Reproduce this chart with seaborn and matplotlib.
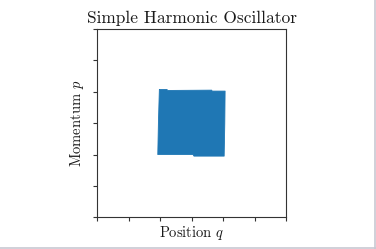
import matplotlib
matplotlib.use("Agg")
import matplotlib.pyplot as plt
from matplotlib.lines import Line2D
import seaborn as sns
import pandas as pd

# Outline of the filled region of phase-space points (q, p)
q_outline = [-1.03, -0.79, -0.76, 0.635, 0.645, 1.06, 1.05, 1.03, 0.07, 0.04, -1.08, -1.06, -1.03]
p_outline = [1.07, 1.07, 1.04, 1.05, 1.02, 1.02, 0.0, -1.05, -1.05, -1.00, -1.00, 0.0, 1.07]
tick_values = [-3, -2, -1, 0, 1, 2, 3]
title = "Simple Harmonic Oscillator"
xlabel = "Position $q$"
ylabel = "Momentum $p$"

sns.set_style("ticks")
plt.rcParams["font.family"] = ["cmr10"]
plt.rcParams["mathtext.fontset"] = "cm"
plt.rcParams["axes.unicode_minus"] = False
plt.rcParams["axes.formatter.use_mathtext"] = True

fig = plt.figure(figsize=(3.76, 2.49), dpi=100)
ax = fig.add_axes([0.259, 0.127, 0.502, 0.757])

df = pd.DataFrame({"q": q_outline, "p": p_outline})
color = "#1f77b4"
ax.fill(df["q"], df["p"], color=color, linewidth=0)
sns.lineplot(data=df, x="q", y="p", sort=False, estimator=None, color=color,
             linewidth=0.6, ax=ax)

ax.set_xlim(-3, 3)
ax.set_ylim(-3, 3)
ax.set_xticks(tick_values)
ax.set_yticks(tick_values)
ax.set_xticklabels([])
ax.set_yticklabels([])
ax.tick_params(direction="out", length=3, width=0.8, color="#333333")
for s in ax.spines.values():
    s.set_linewidth(0.8)
    s.set_color("#333333")
    s.set_visible(True)

ax.set_title(title, fontsize=12.5, pad=4.5, color="#1a1a1a")
ax.set_xlabel(xlabel, fontsize=10.5, labelpad=-1.5, color="#1a1a1a")
ax.set_ylabel(ylabel, fontsize=10.5, labelpad=1.5, color="#1a1a1a")

# light frame on right and bottom edges of the image
fig.add_artist(Line2D([0.9985, 0.9985], [0, 1], transform=fig.transFigure,
                      color="#c8c8d2", linewidth=1.2))
fig.add_artist(Line2D([0, 1], [0.003, 0.003], transform=fig.transFigure,
                      color="#c8c8d2", linewidth=1.2))

fig.savefig("out.png", dpi=100)
